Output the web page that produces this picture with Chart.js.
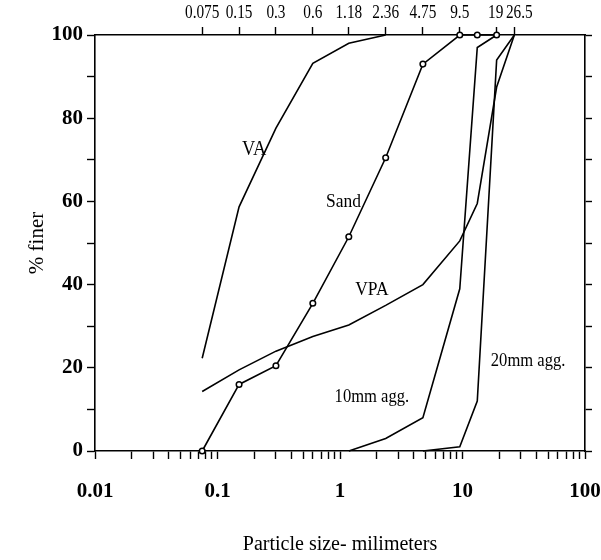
<!DOCTYPE html>
<html><head><meta charset="utf-8">
<script src="https://cdn.jsdelivr.net/npm/chart.js@4.4.1/dist/chart.umd.min.js"></script>
<style>html,body{margin:0;padding:0;background:#fff;}canvas{display:block;}</style>
</head><body>
<canvas id="c" width="601" height="560"></canvas>
<script>
// ---- data ----
const sieveSizes  = [0.075, 0.15, 0.3, 0.6, 1.18, 2.36, 4.75, 9.5, 19, 26.5];
const sieveLabels = ['0.075', '0.15', '0.3', '0.6', '1.18', '2.36', '4.75', '9.5', '19', '26.5'];

const sandSize  = [0.075, 0.15, 0.3, 0.6, 1.18, 2.36, 4.75, 9.5, 13.2, 19];
const sandFiner = [0, 16, 20.5, 35.5, 51.5, 70.5, 93, 100, 100, 100];

const vaSize  = [0.075, 0.15, 0.3, 0.6, 1.18, 2.36];
const vaFiner = [22.3, 58.7, 77.6, 93.2, 98, 100];

const vpaSize  = [0.075, 0.15, 0.3, 0.6, 1.18, 2.36, 4.75, 9.5, 13.2, 19, 26.5];
const vpaFiner = [14.3, 19.5, 24, 27.5, 30.3, 35, 40, 50.5, 59.5, 87.5, 100];

const agg10Size  = [1.18, 2.36, 4.75, 9.5, 13.2, 19];
const agg10Finer = [0, 3, 8, 39, 97, 100];

const agg20Size  = [4.75, 9.5, 13.2, 19, 26.5];
const agg20Finer = [0, 1, 12, 94, 100];

const xTickValues = [0.01, 0.1, 1, 10, 100];
const xTickLabels = ['0.01', '0.1', '1', '10', '100'];
const yTickValues = [0, 20, 40, 60, 80, 100];
const yTickLabels = ['0', '20', '40', '60', '80', '100'];

const curveNames = ['VA', 'Sand', 'VPA', '10mm agg.', '20mm agg.'];
const xTitle = 'Particle size- milimeters';
const yTitle = '% finer';

// ---- build ----
const pts = (xs, ys) => xs.map((x, i) => ({x: x, y: ys[i]}));
const lineDs = (data, extra) => Object.assign({
  data: data, borderColor: '#000', borderWidth: 1.6, pointRadius: 0,
  tension: 0, fill: false, showLine: true, xAxisID: 'x', yAxisID: 'y', clip: 4
}, extra || {});

const minorTicks = [];
for (let e = -2; e <= 1; e++) {
  for (let m = 1; m <= 9; m++) minorTicks.push(Number((m * Math.pow(10, e)).toPrecision(3)));
}
minorTicks.push(100);

const serif = '"Liberation Serif", "DejaVu Serif", serif';

const labelPlugin = {
  id: 'labels',
  afterDraw(chart) {
    const ctx = chart.ctx, xs = chart.scales.x, x2 = chart.scales.x2, ys = chart.scales.y, ca = chart.chartArea;
    const anchors = [[0.199, 72.4], [1.07, 59.9], [1.82, 38.7], [1.82, 13], [34.3, 21.6]];
    const sizes = [20, 19, 19, 18, 18];
    ctx.save();
    ctx.fillStyle = '#000';
    ctx.textAlign = 'center';
    ctx.textBaseline = 'middle';
    curveNames.forEach((n, i) => {
      ctx.save();
      ctx.font = sizes[i] + 'px ' + serif;
      ctx.translate(xs.getPixelForValue(anchors[i][0]), ys.getPixelForValue(anchors[i][1]));
      ctx.scale(0.92, 1);
      ctx.fillText(n, 0, 0);
      ctx.restore();
    });
    // top sieve labels (condensed)
    const topShift = [0, 0, 0, 0, 0, 0, 0, 0, -1, 5];
    ctx.font = '18px ' + serif;
    sieveLabels.forEach((t, i) => {
      ctx.save();
      ctx.translate(x2.getPixelForValue(sieveSizes[i]) + topShift[i], 13);
      ctx.scale(0.85, 1);
      ctx.fillText(t, 0, 0);
      ctx.restore();
    });
    ctx.font = '20px ' + serif;
    ctx.fillText(xTitle, (ca.left + ca.right) / 2, chart.height - 15);
    ctx.translate(37, (ca.top + ca.bottom) / 2);
    ctx.rotate(-Math.PI / 2);
    ctx.font = '21px ' + serif;
    ctx.fillText(yTitle, 0, 0);
    ctx.restore();
  }
};

new Chart(document.getElementById('c'), {
  type: 'line',
  data: {
    datasets: [
      lineDs(pts(vaSize, vaFiner)),
      lineDs(pts(sandSize, sandFiner), {pointRadius: 2.8, pointBorderWidth: 1.5, pointBorderColor: '#000', pointBackgroundColor: '#fff'}),
      lineDs(pts(vpaSize, vpaFiner)),
      lineDs(pts(agg10Size, agg10Finer)),
      lineDs(pts(agg20Size, agg20Finer))
    ]
  },
  options: {
    responsive: false,
    devicePixelRatio: 1,
    animation: false,
    layout: {padding: 0},
    plugins: {legend: {display: false}, title: {display: false}, tooltip: {enabled: false}},
    scales: {
      x: {
        type: 'logarithmic', position: 'bottom', min: 0.01, max: 100,
        afterBuildTicks: s => { s.ticks = minorTicks.map(v => ({value: v})); },
        afterFit: s => { s.height = 109; s.paddingLeft = 0; s.paddingRight = 0; },
        ticks: {
          autoSkip: false, maxRotation: 0, minRotation: 0, padding: 20, color: '#000',
          font: {family: serif, size: 21, weight: 'bold'},
          callback: v => { const i = xTickValues.findIndex(t => Math.abs(t - v) < 1e-9); return i >= 0 ? xTickLabels[i] : ''; }
        },
        grid: {drawOnChartArea: false, drawTicks: true, tickLength: 8, tickColor: '#000', tickWidth: 1.4},
        border: {display: true, color: '#000', width: 1.6}
      },
      x2: {
        type: 'logarithmic', position: 'top', min: 0.01, max: 100,
        afterBuildTicks: s => { s.ticks = sieveSizes.map(v => ({value: v})); },
        afterFit: s => { s.height = 35; s.paddingLeft = 0; s.paddingRight = 0; },
        ticks: {autoSkip: false, maxRotation: 0, minRotation: 0, padding: 4, callback: () => ''},
        grid: {drawOnChartArea: false, drawTicks: true, tickLength: 8, tickColor: '#000', tickWidth: 1.4},
        border: {display: true, color: '#000', width: 1.6}
      },
      y: {
        type: 'linear', position: 'left', min: 0, max: 100,
        afterFit: s => { s.width = 95; s.paddingTop = 0; s.paddingBottom = 0; },
        ticks: {
          stepSize: 10, padding: 4, color: '#000',
          font: {family: serif, size: 21, weight: 'bold'},
          callback: v => { const i = yTickValues.indexOf(v); return i >= 0 ? yTickLabels[i] : ''; }
        },
        grid: {drawOnChartArea: false, drawTicks: true, tickLength: 8, tickColor: '#000', tickWidth: 1.4},
        border: {display: true, color: '#000', width: 1.6}
      },
      y2: {
        type: 'linear', position: 'right', min: 0, max: 100,
        afterFit: s => { s.width = 16; s.paddingTop = 0; s.paddingBottom = 0; },
        ticks: {stepSize: 10, padding: 0, callback: () => ''},
        grid: {drawOnChartArea: false, drawTicks: true, tickLength: 7, tickColor: '#000', tickWidth: 1.4},
        border: {display: true, color: '#000', width: 1.6}
      }
    }
  },
  plugins: [labelPlugin]
});
</script>
</body></html>
